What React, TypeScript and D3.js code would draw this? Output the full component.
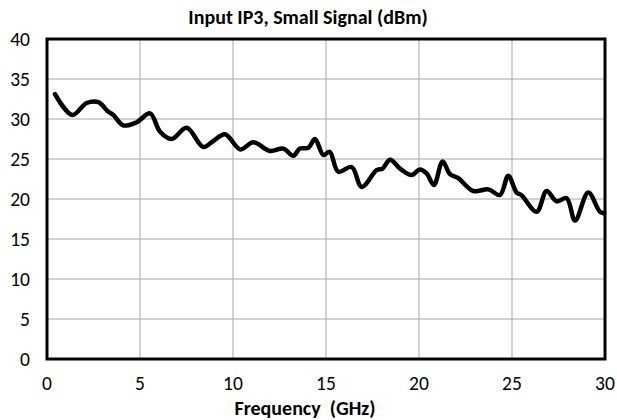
import React from "react";
import * as d3 from "d3";

const freqGHz = [0.43, 1.36, 2.13, 2.76, 3.3, 3.57, 4.1, 4.82, 5.54, 6.08, 6.7, 7.51, 8.4, 8.94, 9.57, 10.4, 11.09, 11.99, 12.71, 13.24, 13.6, 14.05, 14.41, 14.86, 15.2, 15.66, 16.38, 16.92, 17.72, 18.04, 18.44, 18.98, 19.6, 20.05, 20.41, 20.8, 21.27, 21.67, 22.11, 22.92, 23.73, 24.35, 24.8, 25.25, 25.5, 26.33, 26.86, 27.4, 27.94, 28.39, 29.1, 29.73, 29.96];
const iip3dBm = [33.1, 30.5, 32.0, 32.1, 30.9, 30.5, 29.2, 29.6, 30.7, 28.4, 27.5, 28.9, 26.5, 27.25, 28.1, 26.2, 27.1, 26.0, 26.3, 25.4, 26.3, 26.4, 27.5, 25.5, 25.9, 23.4, 24.0, 21.5, 23.6, 23.8, 24.9, 23.8, 23.0, 23.7, 23.2, 21.75, 24.7, 23.1, 22.6, 21.0, 21.2, 20.5, 22.9, 20.8, 20.5, 18.4, 21.0, 19.7, 20.1, 17.3, 20.8, 18.4, 18.2];
const xTicks = [0, 5, 10, 15, 20, 25, 30];
const yTicks = [0, 5, 10, 15, 20, 25, 30, 35, 40];

const W = 617, H = 420;
const M = { left: 47, right: 605, top: 39, bottom: 359 };
const font = "Calibri, Carlito, 'Open Sans', sans-serif";

export default function App() {
  const x = d3.scaleLinear().domain([0, 30]).range([M.left, M.right]);
  const y = d3.scaleLinear().domain([0, 40]).range([M.bottom, M.top]);
  const pts: [number, number][] = freqGHz.map((f, i) => [f, iip3dBm[i]]);
  const line = d3
    .line<[number, number]>()
    .x((d) => x(d[0]))
    .y((d) => y(d[1]))
    .curve(d3.curveCatmullRom.alpha(0.5));
  return (
    <svg width={W} height={H} style={{ position: "absolute", left: 0, top: 0 }}>
      <rect width={W} height={H} fill="#fff" />
      {yTicks.slice(1, -1).map((t) => (
        <line key={"gy" + t} x1={M.left} x2={M.right} y1={y(t)} y2={y(t)} stroke="#a6a6a6" strokeWidth={1} />
      ))}
      {xTicks.slice(1, -1).map((t) => (
        <line key={"gx" + t} y1={M.top} y2={M.bottom} x1={x(t)} x2={x(t)} stroke="#a6a6a6" strokeWidth={1} />
      ))}
      <rect x={M.left} y={M.top} width={M.right - M.left} height={M.bottom - M.top} fill="none" stroke="#000" strokeWidth={3} />
      <path d={line(pts) || ""} fill="none" stroke="#000" strokeWidth={4.5} strokeLinejoin="round" strokeLinecap="round" />
      {yTicks.map((t) => (
        <text key={"ty" + t} x={30} y={y(t)} dy="0.35em" textAnchor="end" fontFamily={font} fontSize={19.5} fill="#000">
          {t}
        </text>
      ))}
      {xTicks.map((t) => (
        <text key={"tx" + t} x={x(t)} y={383} dy="0.35em" textAnchor="middle" fontFamily={font} fontSize={19.5} fill="#000">
          {t}
        </text>
      ))}
      <text x={308} y={17} dy="0.35em" textAnchor="middle" fontFamily={font} fontWeight="bold" fontSize={20} fill="#000">
        Input IP3, Small Signal (dBm)
      </text>
      <text x={305} y={408} dy="0.35em" textAnchor="middle" fontFamily={font} fontWeight="bold" fontSize={20} fill="#000" style={{ whiteSpace: "pre" }}>
        Frequency  (GHz)
      </text>
    </svg>
  );
}
